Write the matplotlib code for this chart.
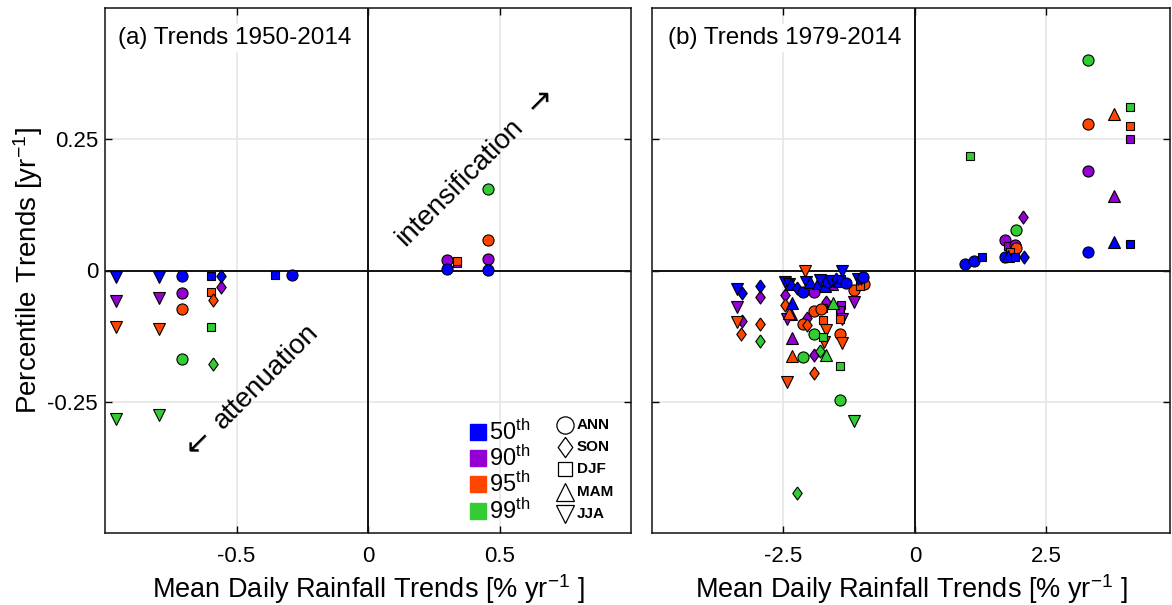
import matplotlib
matplotlib.use("Agg")
import matplotlib.pyplot as plt

plt.rcParams["font.family"] = ["Liberation Sans", "DejaVu Sans"]
plt.rcParams["mathtext.default"] = "regular"

# ---------------------------------------------------------------- data
percentiles = ["50", "90", "95", "99"]
pct_colors = {"50": "#0000ff", "90": "#9400d3", "95": "#ff4500", "99": "#32cd32"}
seasons = ["ANN", "SON", "DJF", "MAM", "JJA"]

# (a) Trends 1950-2014 : season, mean-rainfall trend (x), percentile trend (y)
a50_season = ["JJA", "JJA", "ANN", "DJF", "SON", "DJF", "ANN", "ANN", "ANN"]
a50_x = [-0.958, -0.793, -0.708, -0.597, -0.559, -0.354, -0.290, 0.299, 0.455]
a50_y = [-0.013, -0.013, -0.010, -0.010, -0.010, -0.008, -0.008, 0.002, 0.001]

a90_season = ["JJA", "JJA", "ANN", "SON", "ANN", "DJF", "ANN"]
a90_x = [-0.958, -0.793, -0.708, -0.559, 0.299, 0.337, 0.455]
a90_y = [-0.058, -0.052, -0.042, -0.032, 0.020, 0.014, 0.022]

a95_season = ["JJA", "JJA", "ANN", "DJF", "SON", "DJF", "ANN"]
a95_x = [-0.958, -0.793, -0.708, -0.597, -0.588, 0.337, 0.455]
a95_y = [-0.107, -0.112, -0.074, -0.040, -0.057, 0.018, 0.058]

a99_season = ["JJA", "JJA", "ANN", "DJF", "SON", "ANN"]
a99_x = [-0.958, -0.793, -0.708, -0.597, -0.588, 0.455]
a99_y = [-0.282, -0.276, -0.169, -0.107, -0.179, 0.155]

# (b) Trends 1979-2014
b50_season = ["JJA", "SON", "SON", "JJA", "JJA", "MAM", "SON", "ANN", "JJA", "MAM",
              "MAM", "JJA", "MAM", "ANN", "JJA", "SON", "MAM", "DJF", "JJA", "ANN",
              "JJA", "SON", "ANN", "MAM",
              "ANN", "ANN", "DJF", "ANN", "MAM", "DJF", "SON", "ANN", "MAM", "DJF"]
b50_x = [-3.39, -3.28, -2.95, -2.47, -2.40, -2.36, -2.24, -2.12, -2.08, -2.00,
         -1.85, -1.80, -1.71, -1.65, -1.59, -1.50, -1.45, -1.40, -1.38, -1.31,
         -1.08, -1.02, -0.99, -2.33,
         0.95, 1.12, 1.28, 1.71, 1.76, 1.91, 2.07, 3.30, 3.78, 4.08]
b50_y = [-0.035, -0.043, -0.030, -0.022, -0.025, -0.025, -0.034, -0.040, -0.022, -0.022,
         -0.024, -0.018, -0.029, -0.022, -0.020, -0.017, -0.020, -0.016, -0.001, -0.024,
         -0.016, -0.014, -0.013, -0.061,
         0.013, 0.019, 0.026, 0.026, 0.028, 0.026, 0.026, 0.036, 0.054, 0.051]

b90_season = ["JJA", "SON", "SON", "SON", "MAM", "JJA", "SON", "ANN", "MAM", "SON",
              "DJF", "DJF", "DJF", "JJA", "JJA", "MAM", "SON", "ANN",
              "SON", "ANN", "DJF", "ANN", "ANN", "MAM", "DJF"]
b90_x = [-3.38, -3.28, -2.95, -2.47, -2.36, -2.43, -2.05, -1.92, -1.57, -1.69,
         -1.75, -1.41, -1.43, -1.15, -1.39, -2.33, -1.92, -1.00,
         2.06, 1.71, 1.77, 1.91, 3.30, 3.78, 4.08]
b90_y = [-0.069, -0.096, -0.051, -0.047, -0.082, -0.093, -0.090, -0.040, -0.025, -0.060,
         -0.071, -0.065, -0.076, -0.060, -0.093, -0.129, -0.160, -0.019,
         0.102, 0.059, 0.046, 0.048, 0.189, 0.142, 0.251]

b95_season = ["JJA", "SON", "SON", "SON", "MAM", "JJA", "ANN", "SON", "ANN", "ANN",
              "DJF", "DJF", "JJA", "JJA", "ANN", "JJA", "MAM", "SON", "JJA", "ANN",
              "ANN", "DJF",
              "ANN", "DJF", "ANN", "MAM", "DJF"]
b95_x = [-3.38, -2.95, -3.30, -2.47, -2.40, -2.10, -2.13, -2.05, -1.92, -1.78,
         -1.75, -1.43, -1.69, -1.73, -1.43, -1.39, -2.33, -1.92, -2.43, -1.15,
         -0.96, -1.05,
         1.93, 1.80, 3.30, 3.78, 4.08]
b95_y = [-0.098, -0.101, -0.121, -0.066, -0.080, -0.001, -0.101, -0.104, -0.078, -0.073,
         -0.095, -0.093, -0.114, -0.136, -0.120, -0.139, -0.163, -0.196, -0.212, -0.038,
         -0.025, -0.030,
         0.043, 0.035, 0.279, 0.298, 0.275]

b99_season = ["SON", "MAM", "ANN", "DJF", "ANN", "SON", "MAM", "DJF", "ANN", "JJA",
              "SON", "DJF", "ANN", "ANN", "DJF"]
b99_x = [-2.95, -1.56, -1.92, -1.75, -2.12, -1.80, -1.70, -1.43, -1.43, -1.15,
         -2.24, 1.05, 1.93, 3.30, 4.08]
b99_y = [-0.134, -0.062, -0.120, -0.126, -0.164, -0.153, -0.160, -0.182, -0.247, -0.286,
         -0.423, 0.219, 0.078, 0.401, 0.311]

panel_a = {"90": (a90_season, a90_x, a90_y), "95": (a95_season, a95_x, a95_y),
           "99": (a99_season, a99_x, a99_y), "50": (a50_season, a50_x, a50_y)}
panel_b = {"90": (b90_season, b90_x, b90_y), "95": (b95_season, b95_x, b95_y),
           "99": (b99_season, b99_x, b99_y), "50": (b50_season, b50_x, b50_y)}

# ---------------------------------------------------------------- styles
DIAMOND = [(0, 1), (0.72, 0), (0, -1), (-0.72, 0), (0, 1)]
season_marker = {"ANN": "o", "SON": DIAMOND, "DJF": "s", "MAM": "^", "JJA": "v"}
season_size = {"ANN": 8.0, "SON": 9.4, "DJF": 6.3, "MAM": 8.6, "JJA": 8.6}

W, H = 1172, 605
fig = plt.figure(figsize=(W / 100, H / 100), dpi=100)


def px_axes(left, top, right, bottom):
    return fig.add_axes([left / W, 1 - bottom / H, (right - left) / W, (bottom - top) / H])


ax_a = px_axes(105, 8, 631, 533)
ax_b = px_axes(652, 8, 1170, 533)


def style_axes(ax, xlim, xticks, xlabels, show_ylabels):
    ax.set_xlim(*xlim)
    ax.set_ylim(-0.5, 0.5)
    ax.set_xticks(xticks)
    ax.set_xticklabels(xlabels)
    ax.set_yticks([-0.25, 0, 0.25])
    if show_ylabels:
        ax.set_yticklabels(["-0.25", "0", "0.25"])
    else:
        ax.set_yticklabels([])
    ax.grid(True, color="#e6e6e6", linewidth=1.2)
    ax.set_axisbelow(True)
    ax.axhline(0, color="#111111", linewidth=1.4, zorder=1.5)
    ax.axvline(0, color="#111111", linewidth=1.4, zorder=1.5)
    ax.tick_params(direction="in", length=5, width=1, top=True, right=True,
                   labelsize=16, colors="black")
    ax.tick_params(axis="x", pad=9)
    ax.tick_params(axis="y", pad=5)
    for sp in ax.spines.values():
        sp.set_linewidth(1.1)
        sp.set_color("#111111")
    ax.set_xlabel("Mean Daily Rainfall Trends [% yr$^{-1}$ ]", fontsize=19.5, labelpad=4)


def draw_points(ax, groups):
    z = 3
    for pct, (sea, xs, ys) in groups.items():
        for s, x, y in zip(sea, xs, ys):
            ax.plot([x], [y], linestyle="none", marker=season_marker[s],
                    markersize=season_size[s], markerfacecolor=pct_colors[pct],
                    markeredgecolor="black", markeredgewidth=0.8, zorder=z)
            z += 0.01


style_axes(ax_a, (-1, 1), [-0.5, 0, 0.5], ["-0.5", "0", "0.5"], True)
style_axes(ax_b, (-5, 4.85), [-2.5, 0, 2.5], ["-2.5", "0", "2.5"], False)
ax_a.set_ylabel("Percentile Trends [yr$^{-1}$]", fontsize=20, labelpad=2)

draw_points(ax_a, panel_a)
draw_points(ax_b, panel_b)

title_box = dict(facecolor="white", edgecolor="none", pad=2)
ax_a.text(0.025, 0.943, "(a) Trends 1950-2014", transform=ax_a.transAxes,
          fontsize=17.5, ha="left", va="center", bbox=title_box, zorder=6)
ax_b.text(0.031, 0.943, "(b) Trends 1979-2014", transform=ax_b.transAxes,
          fontsize=17.5, ha="left", va="center", bbox=title_box, zorder=6)

# diagonal annotations: words and their arrows
ax_a.text(0.35, 0.167, "intensification", fontsize=20, rotation=45,
          rotation_mode="anchor", ha="center", va="center", zorder=6)
ax_a.text(0.655, 0.322, "\u2192", fontsize=22, family="DejaVu Sans", rotation=45,
          rotation_mode="anchor", ha="center", va="center", zorder=6)
ax_a.text(-0.388, -0.203, "attenuation", fontsize=20, rotation=45,
          rotation_mode="anchor", ha="center", va="center", zorder=6)
ax_a.text(-0.645, -0.328, "\u2190", fontsize=22, family="DejaVu Sans", rotation=45,
          rotation_mode="anchor", ha="center", va="center", zorder=6)


# ---------------------------------------------------------------- legend keys
def fx(px):
    return (px - 105) / 526


def fy(py):
    return (533 - py) / 525


for pct, py in zip(percentiles, [432, 458, 484, 511]):
    ax_a.plot([fx(478)], [fy(py)], transform=ax_a.transAxes, marker="s",
              markersize=11.5, markerfacecolor=pct_colors[pct],
              markeredgecolor=pct_colors[pct], linestyle="none", zorder=7, clip_on=False)
    ax_a.text(fx(489), fy(py), pct + "$^{th}$", transform=ax_a.transAxes,
              fontsize=17, ha="left", va="center", zorder=7)

for s, py in zip(seasons, [425, 447, 469, 492, 514]):
    ax_a.plot([fx(565)], [fy(py)], transform=ax_a.transAxes, marker=season_marker[s],
              markersize=season_size[s] * 1.55, markerfacecolor="white",
              markeredgecolor="black", markeredgewidth=0.9, linestyle="none",
              zorder=7, clip_on=False)
    ax_a.text(fx(577), fy(py), s, transform=ax_a.transAxes, fontsize=11,
              fontweight="bold", ha="left", va="center", zorder=7)

fig.savefig("out.png", dpi=100)
